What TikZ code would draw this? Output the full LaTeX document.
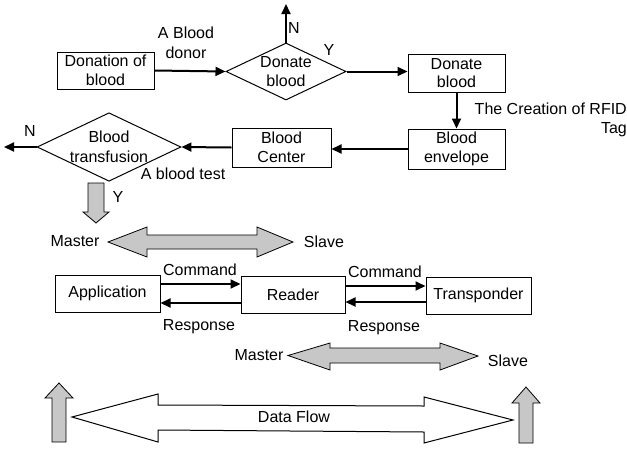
\documentclass[tikz,border=0pt]{standalone}
\usepackage{fontspec}
\setmainfont{Liberation Sans}
\usetikzlibrary{shapes.geometric,arrows.meta}
\begin{document}
\begin{tikzpicture}[x=1pt,y=-1pt,
  font=\fontsize{16}{19.5}\selectfont,
  box/.style={draw,line width=1pt,inner sep=0pt,align=center,fill=white},
  dia/.style={draw,line width=1pt,diamond,aspect=2.1,inner sep=0pt,align=center},
  flow/.style={line width=2pt,-{Triangle[length=10pt,width=9pt]}},
  fat/.style={draw,line width=0.8pt,fill=black!22},
  hollow/.style={draw,line width=1pt,fill=white},
  lbl/.style={inner sep=0pt,align=center}]
\useasboundingbox (0,0) rectangle (627,448);
% top flow
\node[box,minimum width=97pt,minimum height=37pt] (don) at (105.5,70.5) {Donation of\\[-1pt]blood};
\node[dia,minimum width=120pt,minimum height=57pt] (d1) at (286,71.5) {Donate\\blood};
\node[box,minimum width=97pt,minimum height=38pt] (db) at (456.5,73) {Donate\\[-1pt]blood};
\node[box,minimum width=97pt,minimum height=40pt] (env) at (456.5,149) {Blood\\[-1pt]envelope};
\node[box,minimum width=99pt,minimum height=39pt] (bc) at (281.5,147.5) {Blood\\[-1pt]Center};
\node[dia,minimum width=122pt,minimum height=58pt] (d2) at (109,147) {Blood\\transfusion};
\coordinate (n1) at (286,4);
\coordinate (n2) at (4,147);
\draw[flow] (don.east) -- (d1.west);
\draw[flow] (d1.north) -- (n1);
\draw[flow] (d1.east) -- (d1.east -| db.west);
\draw[flow] (db.south) -- (env.north);
\draw[flow] (env.west) -- (bc.east |- env.west);
\draw[flow] (bc.west) -- (d2.east);
\draw[flow] (d2.west) -- (n2);
\node[lbl] (ab) at (186,43) {A Blood\\donor};
\node[lbl] (nn1) at (294,28) {N};
\node[lbl] (yy1) at (329,50) {Y};
\node[lbl,anchor=east,align=right] (rfid) at (627,120) {The Creation of RFID\\Tag};
\node[lbl] (nn2) at (30,131) {N};
\node[lbl] (abt) at (183,174) {A blood test};
\node[lbl] (yy2) at (118,197) {Y};
% Y fat arrow
\path[fat] (88,183) -- (104,183) -- (104,212) -- (109,212) -- (96,223) -- (83,212) -- (88,212) -- cycle;
% Master/Slave 1
\path[fat] (108,242) -- (147,227) -- (147,235) -- (257,235) -- (257,227) -- (293,242) -- (257,257) -- (257,249) -- (147,249) -- (147,257) -- cycle;
\node[lbl] (m1) at (75,241) {Master};
\node[lbl] (s1) at (324,242) {Slave};
% RFID system
\node[box,minimum width=105pt,minimum height=37pt] (app) at (107.5,293.5) {Application};
\node[box,minimum width=104pt,minimum height=37pt] (rd) at (293,294.5) {Reader};
\node[box,minimum width=105pt,minimum height=37pt] (tr) at (478.5,295.5) {Transponder};
\coordinate (ca) at ([yshift=9.5pt]app.east);
\coordinate (ra) at ([yshift=-8.5pt]rd.west);
\coordinate (cb) at ([yshift=8.5pt]rd.east);
\coordinate (rb) at ([yshift=-6.5pt]tr.west);
\draw[flow] (ca) -- (ca -| rd.west);
\draw[flow] (ra) -- (ra -| app.east);
\draw[flow] (cb) -- (cb -| tr.west);
\draw[flow] (rb) -- (rb -| rd.east);
\node[lbl] (c1) at (200,270) {Command};
\node[lbl] (r1) at (199,327) {Response};
\node[lbl] (c2) at (385,272) {Command};
\node[lbl] (r2) at (384,328) {Response};
% Master/Slave 2
\path[fat] (288,355.5) -- (330,343) -- (330,348) -- (440,348) -- (440,343) -- (478,356) -- (440,370) -- (440,363) -- (330,363) -- (330,370) -- cycle;
\node[lbl] (m2) at (259,355) {Master};
\node[lbl] (s2) at (508,361) {Slave};
% bottom
\path[fat] (59,383) -- (73,398) -- (66,398) -- (66,442) -- (52,442) -- (52,398) -- (45,398) -- cycle;
\path[fat] (526,387) -- (540,403) -- (533,403) -- (533,443) -- (519,443) -- (519,403) -- (512,403) -- cycle;
\path[hollow] (72,417) -- (158,394) -- (158,405) -- (424,406) -- (424,397) -- (513,420) -- (424,443) -- (424,432) -- (158,430) -- (158,442) -- cycle;
\node[lbl] (df) at (294,417) {Data Flow};
\end{tikzpicture}
\end{document}
